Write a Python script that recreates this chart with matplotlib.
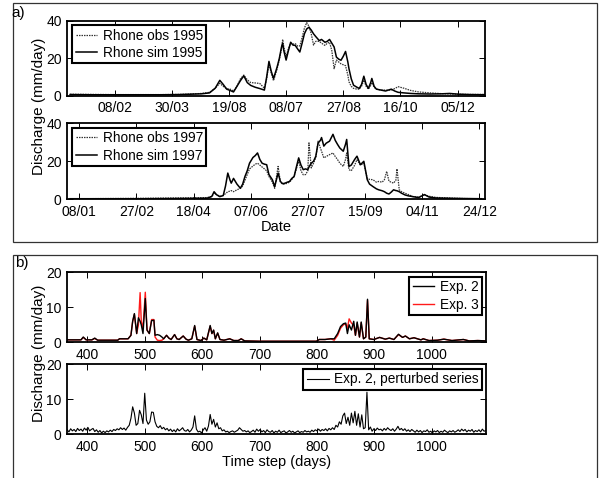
import matplotlib
matplotlib.use('Agg')
import matplotlib.pyplot as plt
from matplotlib.patches import Rectangle
import numpy as np

plt.rcParams['font.family'] = ['Liberation Sans', 'DejaVu Sans']
plt.rcParams['font.size'] = 9.5

# ---- panel a) Rhone 1995 (day of year, mm/day)
days_95 = [0, 20, 40, 60, 80, 95, 105, 115, 122, 127, 131, 134, 137, 140, 143, 146, 149, 152, 155, 158,
           162, 166, 170, 172, 174, 176, 178, 181, 183, 185, 186, 187, 189, 191, 193, 195, 197, 199, 201, 203,
           205, 207, 209, 211, 213, 215, 218, 220, 223, 225, 227, 229, 231, 233, 235, 237, 239, 241, 243, 244,
           246, 248, 251, 253, 255, 257, 259, 261, 263, 264, 266, 268, 272, 276, 281, 284, 287, 292, 298, 305,
           315, 325, 332, 340, 350, 363]
sim_95 = [0.6, 0.5, 0.5, 0.5, 0.5, 0.6, 0.8, 1.0, 1.5, 4.0, 8.2, 6.0, 3.5, 2.8, 2.0, 5.0, 8.0, 10.6, 7.0, 5.5,
          4.5, 3.8, 3.0, 10.0, 18.3, 13.0, 9.2, 15.0, 19.7, 26.0, 28.0, 24.0, 19.0, 24.0, 28.5, 27.0, 26.8, 25.0, 23.3, 28.0,
          33.0, 35.6, 36.5, 35.0, 33.0, 31.5, 29.4, 30.0, 28.5, 29.0, 30.0, 28.0, 26.0, 20.6, 19.5, 18.9, 21.0, 23.6, 18.0, 14.4,
          9.0, 5.6, 4.5, 3.9, 6.0, 10.4, 6.0, 3.9, 7.0, 9.2, 5.0, 3.5, 3.0, 2.5, 3.5, 2.5, 1.8, 1.5, 1.2, 1.0,
          0.9, 1.0, 1.2, 0.8, 0.6, 0.5]
obs_95 = [0.8, 0.7, 0.6, 0.6, 0.6, 0.7, 0.9, 1.2, 1.8, 4.0, 6.6, 5.0, 3.8, 3.5, 2.5, 5.0, 9.0, 11.0, 8.5, 7.0,
          6.8, 6.5, 4.0, 9.0, 17.0, 12.0, 8.0, 14.0, 19.0, 25.0, 30.0, 26.0, 21.0, 25.0, 28.0, 27.5, 27.8, 26.5, 26.5, 31.0,
          36.0, 39.0, 37.0, 33.0, 27.0, 29.0, 29.0, 28.0, 26.8, 28.0, 28.5, 24.0, 14.4, 19.0, 18.0, 17.0, 16.5, 16.0, 11.0, 7.4,
          5.0, 3.9, 3.5, 3.5, 5.0, 8.3, 5.0, 3.5, 5.5, 7.0, 4.5, 3.5, 3.0, 3.0, 3.0, 3.8, 4.8, 4.0, 2.8, 2.0,
          1.5, 1.1, 0.9, 0.8, 0.7, 0.7]
ticks_95 = [39, 89, 139, 189, 239, 289, 339]
labels_95 = ['08/02', '30/03', '19/08', '08/07', '27/08', '16/10', '05/12']

# ---- panel a) Rhone 1997
days_97 = [0, 30, 60, 90, 110, 120, 124, 126, 128, 131, 134, 136, 138, 140, 141, 143, 146, 149, 151, 153,
           155, 157, 160, 162, 164, 166, 168, 170, 172, 174, 177, 179, 182, 184, 186, 188, 190, 192, 194, 196,
           198, 200, 202, 204, 206, 208, 209, 211, 213, 215, 217, 219, 220, 222, 224, 227, 230, 232, 234, 236,
           239, 241, 242, 244, 246, 247, 249, 251, 254, 257, 260, 262, 265, 268, 270, 273, 275, 277, 279, 281,
           283, 285, 286, 288, 290, 293, 296, 300, 305, 310, 314, 320, 335, 345, 360]
sim_97 = [0.3, 0.3, 0.3, 0.4, 0.5, 0.6, 1.5, 4.0, 2.5, 1.4, 2.0, 7.0, 13.8, 10.0, 8.5, 11.0, 8.0, 5.8, 8.0, 12.0,
          15.0, 19.0, 22.0, 23.0, 24.4, 21.0, 19.0, 18.5, 18.2, 13.0, 10.3, 6.7, 13.8, 9.4, 8.2, 8.5, 9.0, 9.4, 11.0, 12.0,
          17.0, 21.8, 18.0, 15.6, 16.0, 15.6, 17.0, 19.0, 20.0, 22.7, 29.7, 31.0, 32.5, 28.0, 29.5, 30.6, 34.2, 31.0, 28.9, 27.0,
          25.3, 29.0, 31.5, 17.3, 18.0, 19.0, 21.0, 22.7, 18.2, 20.0, 10.3, 8.0, 6.7, 5.5, 5.0, 4.5, 4.0, 3.2, 2.8, 3.8,
          5.0, 4.6, 4.5, 4.0, 3.2, 2.3, 1.8, 1.4, 0.9, 2.5, 1.2, 0.7, 0.5, 0.4, 0.3]
obs_97 = [0.3, 0.4, 0.5, 0.7, 0.8, 0.9, 1.5, 3.2, 2.5, 1.5, 2.0, 3.0, 4.0, 4.3, 4.6, 4.0, 5.0, 5.8, 7.0, 10.0,
          13.0, 16.0, 17.5, 18.5, 19.0, 18.0, 17.0, 16.0, 15.0, 12.0, 9.0, 5.8, 17.3, 9.0, 8.0, 8.0, 8.5, 9.0, 10.5, 12.0,
          16.0, 20.5, 15.0, 12.9, 13.0, 15.0, 29.7, 16.5, 19.0, 22.0, 30.6, 27.0, 25.3, 21.8, 22.5, 23.5, 24.4, 22.5, 20.9, 19.0,
          17.3, 21.0, 24.4, 15.6, 15.0, 16.0, 18.0, 20.9, 18.0, 19.0, 11.0, 10.5, 10.3, 9.0, 9.4, 9.0, 10.3, 14.7, 9.5, 9.0,
          8.5, 10.0, 16.0, 5.0, 4.0, 3.2, 2.5, 1.4, 1.2, 2.3, 1.6, 1.0, 0.6, 0.4, 0.3]
ticks_97 = [8, 58, 108, 158, 208, 258, 308, 358]
labels_97 = ['08/01', '27/02', '18/04', '07/06', '27/07', '15/09', '04/11', '24/12']

# ---- panel b) experiments (time step in days)
steps_b = [365, 380, 389, 393, 398, 408, 413, 418, 435, 453, 456, 463, 471, 476, 479, 482, 486, 489, 492, 494,
           497, 501, 504, 508, 512, 516, 518, 522, 526, 530, 533, 538, 542, 546, 552, 556, 560, 567, 572, 576,
           582, 587, 591, 598, 603, 608, 614, 617, 620, 623, 627, 631, 638, 648, 655, 663, 668, 674, 700, 740,
           780, 799, 804, 814, 824, 830, 836, 841, 846, 850, 853, 856, 860, 864, 867, 870, 874, 877, 881, 885,
           888, 891, 899, 909, 919, 926, 934, 942, 949, 954, 961, 969, 981, 985, 995, 1010, 1021, 1035, 1055, 1065,
           1080, 1095]
exp2 = [0.7, 0.7, 0.7, 1.5, 0.7, 0.7, 1.2, 0.6, 0.6, 0.6, 1.0, 1.0, 1.0, 2.0, 6.0, 8.2, 2.5, 7.0, 6.0, 5.0,
        2.5, 12.5, 3.5, 2.5, 6.2, 6.3, 2.0, 2.2, 2.0, 1.5, 1.0, 2.0, 1.2, 0.8, 2.2, 1.0, 0.8, 1.8, 0.9, 0.6,
        1.0, 4.8, 0.8, 0.5, 1.2, 0.7, 4.8, 2.5, 3.5, 1.0, 2.7, 0.8, 0.6, 1.0, 0.5, 0.5, 1.0, 0.4, 0.3, 0.3,
        0.3, 0.3, 0.8, 0.8, 1.0, 1.0, 2.5, 4.5, 5.3, 5.5, 2.5, 5.0, 3.5, 6.0, 2.0, 5.8, 1.5, 5.8, 1.0, 1.5,
        12.3, 1.0, 0.8, 1.4, 0.9, 1.2, 0.8, 2.3, 1.4, 1.8, 1.0, 1.3, 0.7, 1.0, 0.5, 0.6, 0.9, 0.5, 0.8, 0.4,
        0.5, 0.4]
exp3 = [0.7, 0.7, 0.7, 1.4, 0.7, 0.7, 1.1, 0.6, 0.6, 0.6, 1.0, 1.0, 1.0, 2.0, 6.0, 8.0, 2.5, 5.0, 14.2, 6.0,
        4.0, 14.3, 3.5, 2.5, 6.5, 6.5, 1.5, 0.6, 0.5, 0.6, 1.0, 2.0, 1.2, 0.8, 2.2, 1.0, 0.8, 1.8, 0.9, 0.6,
        1.0, 4.6, 0.8, 0.5, 1.2, 0.7, 4.6, 2.5, 3.4, 1.0, 2.6, 0.8, 0.6, 1.0, 0.5, 0.5, 1.0, 0.4, 0.3, 0.3,
        0.3, 0.3, 0.8, 0.8, 1.0, 0.6, 2.0, 4.0, 5.0, 5.3, 4.0, 6.7, 5.5, 4.8, 2.0, 5.5, 1.5, 5.6, 1.0, 1.5,
        12.0, 1.0, 0.8, 1.4, 0.9, 1.2, 0.8, 2.2, 1.4, 1.8, 1.0, 1.3, 0.7, 1.0, 0.5, 0.6, 0.9, 0.5, 0.8, 0.4,
        0.5, 0.4]

# perturbed Exp. 2 series, every 3rd day starting at day 365
pert2 = [1.2, 0.6, 1.5, 0.9, 1.3, 0.7, 1.6, 1.0, 1.4, 0.8, 1.7, 1.1, 1.9, 0.9, 1.3, 1.6, 0.7, 1.2, 0.5, 1.0,
         0.3, 0.8, 0.4, 0.9, 0.6, 1.1, 0.7, 1.3, 1.0, 1.5, 1.2, 1.8, 1.3, 1.7, 1.1, 1.9, 2.5, 4.5, 7.8, 6.0,
         2.5, 3.0, 6.8, 5.5, 3.0, 11.7, 4.0, 2.8, 3.5, 6.3, 6.2, 3.5, 2.2, 1.8, 2.4, 1.5, 1.9, 1.2, 1.6, 0.9,
         1.4, 0.7, 1.2, 0.6, 1.5, 0.9, 1.3, 1.8, 1.0, 0.8, 1.3, 0.6, 1.1, 2.0, 5.2, 1.4, 0.6, 0.8, 0.3, 1.2,
         1.8, 0.8, 2.3, 5.6, 2.8, 4.2, 2.0, 3.2, 1.5, 1.8, 0.9, 1.2, 0.6, 0.8, 0.4, 0.7, 0.9, 0.5, 0.8, 1.1,
         1.8, 1.3, 0.8, 1.0, 0.6, 0.9, 0.4, 0.7, 1.1, 0.5, 1.4, 0.8, 1.3, 0.6, 1.0, 0.4, 1.2, 0.7, 0.5, 1.0,
         0.3, 0.8, 0.5, 1.1, 0.4, 0.7, 0.9, 0.3, 0.6, 1.0, 0.5, 0.8, 0.3, 0.6, 0.9, 0.4, 0.7, 0.5, 1.0, 0.6,
         0.8, 0.5, 1.1, 0.7, 1.2, 0.9, 1.4, 0.8, 1.3, 1.0, 1.5, 0.9, 1.6, 1.2, 1.8, 1.3, 2.5, 2.0, 3.5, 2.8,
         5.2, 6.0, 3.0, 4.8, 2.5, 6.0, 3.2, 6.5, 2.5, 5.8, 2.0, 5.5, 1.5, 1.8, 12.0, 1.2, 2.0, 0.8, 1.5, 1.0,
         1.7, 1.2, 1.4, 0.9, 1.6, 1.1, 1.8, 1.3, 1.0, 1.5, 0.8, 1.4, 2.2, 1.2, 1.6, 1.0, 1.5, 0.8, 1.2, 0.7,
         1.3, 0.9, 0.5, 1.1, 0.6, 1.0, 0.4, 0.9, 0.7, 1.2, 0.5, 0.8, 0.3, 0.9, 0.6, 1.0, 0.4, 0.8, 0.5, 1.1,
         0.7, 0.4, 0.9, 0.6, 1.0, 0.5, 0.8, 1.2, 0.7, 1.4, 0.9, 1.3, 0.6, 1.1, 0.8, 1.3, 0.5, 1.0, 0.7, 1.2,
         0.6, 1.4, 0.8, 1.0]
steps_pert = 365 + 3 * np.arange(len(pert2))
ticks_b = [400, 500, 600, 700, 800, 900, 1000]

W, H = 606, 478
fig = plt.figure(figsize=(W / 100, H / 100), dpi=100)


def px_axes(left, top, right, bottom):
    # pixel box -> figure fraction axes
    return fig.add_axes([left / W, 1 - bottom / H, (right - left) / W, (bottom - top) / H])


def style(ax):
    ax.tick_params(direction='in', top=True, right=True, length=4, width=0.7, pad=4, labelsize=10)
    for s in ax.spines.values():
        s.set_linewidth(1.3)


def legend(ax, handles, labels, loc, anchor):
    lg = ax.legend(handles, labels, loc=loc, bbox_to_anchor=anchor, borderaxespad=0,
                   fancybox=False, edgecolor='black', framealpha=1, fontsize=9.8,
                   handlelength=1.6, handletextpad=0.4, borderpad=0.25, labelspacing=0.25)
    lg.get_frame().set_linewidth(1.5)


dot = (0, (1.2, 0.8))

# panel frames
fig.add_artist(Rectangle((12.7 / W, 1 - 242.3 / H), (597 - 12.7) / W, (242.3 - 3.3) / H,
                         transform=fig.transFigure, fill=False, lw=0.9, edgecolor='#333333'))
fig.add_artist(Rectangle((12.7 / W, 1 - 490 / H), (597 - 12.7) / W, (490 - 255) / H,
                         transform=fig.transFigure, fill=False, lw=0.9, edgecolor='#333333'))

# a1
ax1 = px_axes(67.2, 20.7, 485, 95.7)
o1, = ax1.plot(days_95, obs_95, color='#333333', lw=0.9, ls=dot)
s1, = ax1.plot(days_95, sim_95, color='black', lw=1.1)
ax1.set_xlim(-2.5, 363)
ax1.set_ylim(0, 40)
ax1.set_yticks([0, 20, 40])
ax1.set_xticks(ticks_95)
ax1.set_xticklabels(labels_95)
style(ax1)
legend(ax1, [o1, s1], ['Rhone obs 1995', 'Rhone sim 1995'], 'upper left', (0.012, 0.94))

# a2
ax2 = px_axes(67.2, 123.3, 485, 199.3)
o2, = ax2.plot(days_97, obs_97, color='#333333', lw=0.9, ls=dot)
s2, = ax2.plot(days_97, sim_97, color='black', lw=1.1)
ax2.set_xlim(-2.5, 363)
ax2.set_ylim(0, 40)
ax2.set_yticks([0, 20, 40])
ax2.set_xticks(ticks_97)
ax2.set_xticklabels(labels_97)
style(ax2)
ax2.set_xlabel('Date', fontsize=10.5, labelpad=1)
legend(ax2, [o2, s2], ['Rhone obs 1997', 'Rhone sim 1997'], 'upper left', (0.012, 0.94))

# b1
ax3 = px_axes(67.2, 272.3, 485.8, 342.3)
r3, = ax3.plot(steps_b, exp3, color='#ff1a1a', lw=1.0)
k3, = ax3.plot(steps_b, exp2, color='black', lw=1.0)
ax3.set_xlim(365, 1094)
ax3.set_ylim(0, 20)
ax3.set_yticks([0, 10, 20])
ax3.set_xticks(ticks_b)
style(ax3)
legend(ax3, [k3, r3], ['Exp. 2', 'Exp. 3'], 'upper right', (0.991, 0.937))

# b2
ax4 = px_axes(67.2, 364.3, 485.8, 434)
k4, = ax4.plot(steps_pert, pert2, color='black', lw=0.8)
ax4.set_xlim(365, 1094)
ax4.set_ylim(0, 20)
ax4.set_yticks([0, 10, 20])
ax4.set_xticks(ticks_b)
style(ax4)
ax4.set_xlabel('Time step (days)', fontsize=10.5, labelpad=1)
legend(ax4, [k4], ['Exp. 2, perturbed series'], 'upper right', (0.991, 0.933))

# shared y labels and panel tags
ylab = dict(rotation=90, ha='center', va='center', fontsize=11)
fig.text(39.3 / W, 1 - 106 / H, 'Discharge (mm/day)', **ylab)
fig.text(39.3 / W, 1 - 353 / H, 'Discharge (mm/day)', **ylab)
fig.text(18 / W, 1 - 13.5 / H, 'a)', ha='center', va='center', fontsize=11)
fig.text(21.5 / W, 1 - 263 / H, 'b)', ha='center', va='center', fontsize=11)

fig.savefig('out.png', dpi=100)
